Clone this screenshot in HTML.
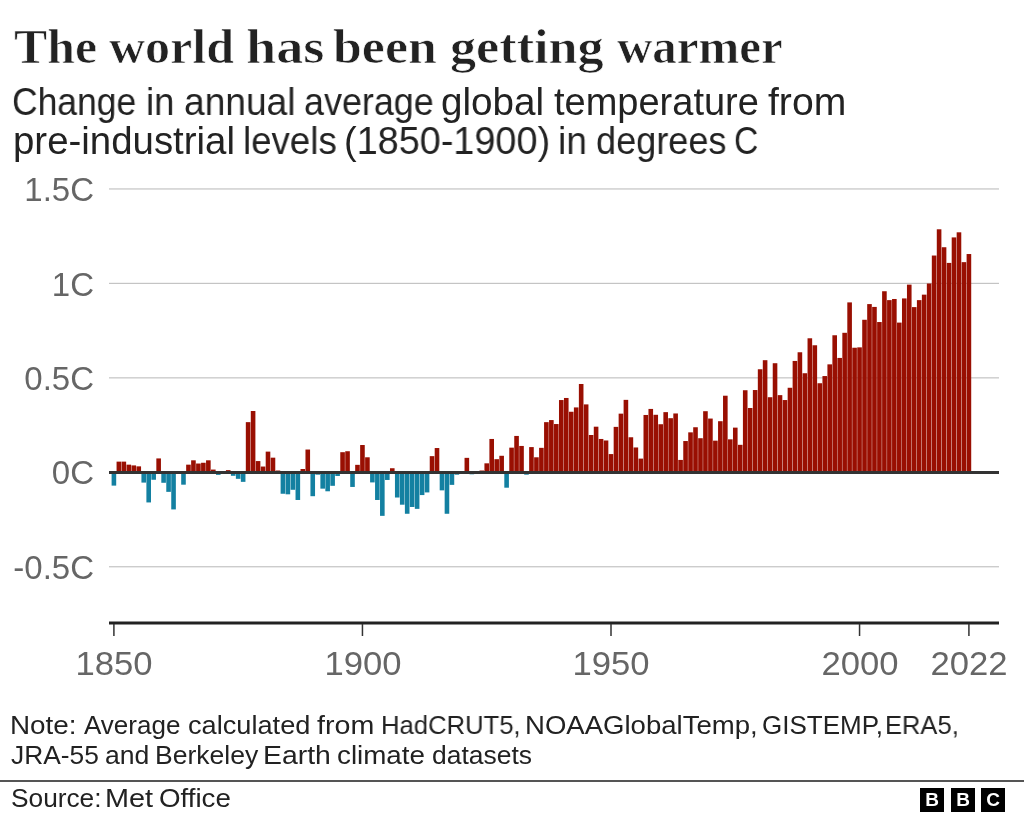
<!DOCTYPE html>
<html><head><meta charset="utf-8">
<style>
html,body{margin:0;padding:0;background:#fff;}
body{width:1024px;height:816px;position:relative;overflow:hidden;}
.t{position:absolute;white-space:nowrap;transform-origin:0 0;will-change:transform;}
.title{font-family:"Liberation Serif",serif;font-weight:bold;color:#222;font-size:48px;line-height:48px;-webkit-text-stroke:0.7px #fff;}
.sub{font-family:"Liberation Sans",sans-serif;color:#222;font-size:38px;line-height:40px;}
.ylab{font-family:"Liberation Sans",sans-serif;color:#666;font-size:33px;line-height:33px;text-align:right;width:92px;left:2px;transform-origin:100% 0;}
.xlab{font-family:"Liberation Sans",sans-serif;color:#666;font-size:33px;line-height:33px;width:0;transform:scaleX(1.05);}
.xlab span{position:absolute;left:0;transform:translateX(-50%);}
.note{font-family:"Liberation Sans",sans-serif;color:#222;font-size:26px;line-height:29px;}
.bbc{position:absolute;top:788px;width:24px;height:24px;background:#000;color:#fff;font-family:"Liberation Sans",sans-serif;font-weight:bold;font-size:19px;line-height:24px;text-align:center;will-change:transform;}
</style></head><body>
<div class="t title" style="left:13.76px;top:23px;transform:scaleX(1.0372)">The</div><div class="t title" style="left:109.40px;top:23px;transform:scaleX(1.0417)">world</div><div class="t title" style="left:246.17px;top:23px;transform:scaleX(1.1309)">has</div><div class="t title" style="left:333.20px;top:23px;transform:scaleX(1.0812)">been</div><div class="t title" style="left:449.71px;top:23px;transform:scaleX(1.0871)">getting</div><div class="t title" style="left:616.80px;top:23px;transform:scaleX(1.0198)">warmer</div>
<div class="t sub" style="left:12.23px;top:81.5px;transform:scaleX(0.9331)">Change</div><div class="t sub" style="left:146.08px;top:81.5px;transform:scaleX(0.9577)">in</div><div class="t sub" style="left:183.62px;top:81.5px;transform:scaleX(0.9766)">annual</div><div class="t sub" style="left:303.66px;top:81.5px;transform:scaleX(0.9444)">average</div><div class="t sub" style="left:441.38px;top:81.5px;transform:scaleX(1.0163)">global</div><div class="t sub" style="left:553.50px;top:81.5px;transform:scaleX(0.999)">temperature</div><div class="t sub" style="left:767.50px;top:81.5px;transform:scaleX(1.0297)">from</div>
<div class="t sub" style="left:12.58px;top:121px;transform:scaleX(1.0106)">pre-industrial</div><div class="t sub" style="left:242.77px;top:121px;transform:scaleX(0.9649)">levels</div><div class="t sub" style="left:343.71px;top:121px;transform:scaleX(0.9956)">(1850-1900)</div><div class="t sub" style="left:557.65px;top:121px;transform:scaleX(0.9769)">in</div><div class="t sub" style="left:595.85px;top:121px;transform:scaleX(0.9504)">degrees</div><div class="t sub" style="left:733.62px;top:121px;transform:scaleX(0.8875)">C</div>


<div class="t ylab" style="top:173.05px">1.5C</div>
<div class="t ylab" style="top:267.50px">1C</div>
<div class="t ylab" style="top:361.95px">0.5C</div>
<div class="t ylab" style="top:456.40px">0C</div>
<div class="t ylab" style="top:550.85px">-0.5C</div>

<svg style="position:absolute;left:0;top:0" width="1024" height="816" viewBox="0 0 1024 816">
<rect x="109" y="188.35" width="890" height="1.2" fill="#c4c4c4"/>
<rect x="109" y="282.80" width="890" height="1.2" fill="#c4c4c4"/>
<rect x="109" y="377.25" width="890" height="1.2" fill="#c4c4c4"/>
<rect x="109" y="566.15" width="890" height="1.2" fill="#c4c4c4"/>

<rect x="111.60" y="472.40" width="4.6" height="13.22" fill="#1380a1"/>
<rect x="116.57" y="461.63" width="4.6" height="10.77" fill="#990f02"/>
<rect x="121.54" y="461.63" width="4.6" height="10.77" fill="#990f02"/>
<rect x="126.51" y="464.66" width="4.6" height="7.74" fill="#990f02"/>
<rect x="131.48" y="465.41" width="4.6" height="6.99" fill="#990f02"/>
<rect x="136.45" y="466.36" width="4.6" height="6.04" fill="#990f02"/>
<rect x="141.43" y="472.40" width="4.6" height="10.20" fill="#1380a1"/>
<rect x="146.40" y="472.40" width="4.6" height="30.04" fill="#1380a1"/>
<rect x="151.37" y="472.40" width="4.6" height="7.37" fill="#1380a1"/>
<rect x="156.34" y="458.42" width="4.6" height="13.98" fill="#990f02"/>
<rect x="161.31" y="472.40" width="4.6" height="10.39" fill="#1380a1"/>
<rect x="166.28" y="472.40" width="4.6" height="19.46" fill="#1380a1"/>
<rect x="171.25" y="472.40" width="4.6" height="37.02" fill="#1380a1"/>
<rect x="181.19" y="472.40" width="4.6" height="12.28" fill="#1380a1"/>
<rect x="186.16" y="464.66" width="4.6" height="7.74" fill="#990f02"/>
<rect x="191.14" y="460.31" width="4.6" height="12.09" fill="#990f02"/>
<rect x="196.11" y="463.52" width="4.6" height="8.88" fill="#990f02"/>
<rect x="201.08" y="462.77" width="4.6" height="9.63" fill="#990f02"/>
<rect x="206.05" y="460.31" width="4.6" height="12.09" fill="#990f02"/>
<rect x="211.02" y="469.57" width="4.6" height="2.83" fill="#990f02"/>
<rect x="215.99" y="472.40" width="4.6" height="2.46" fill="#1380a1"/>
<rect x="225.93" y="470.13" width="4.6" height="2.27" fill="#990f02"/>
<rect x="230.90" y="472.40" width="4.6" height="3.40" fill="#1380a1"/>
<rect x="235.88" y="472.40" width="4.6" height="6.42" fill="#1380a1"/>
<rect x="240.85" y="472.40" width="4.6" height="9.45" fill="#1380a1"/>
<rect x="245.82" y="422.15" width="4.6" height="50.25" fill="#990f02"/>
<rect x="250.79" y="411.01" width="4.6" height="61.39" fill="#990f02"/>
<rect x="255.76" y="461.07" width="4.6" height="11.33" fill="#990f02"/>
<rect x="260.73" y="466.54" width="4.6" height="5.86" fill="#990f02"/>
<rect x="265.70" y="451.62" width="4.6" height="20.78" fill="#990f02"/>
<rect x="270.67" y="457.67" width="4.6" height="14.73" fill="#990f02"/>
<rect x="275.64" y="470.51" width="4.6" height="1.89" fill="#990f02"/>
<rect x="280.61" y="472.40" width="4.6" height="21.35" fill="#1380a1"/>
<rect x="285.58" y="472.40" width="4.6" height="21.91" fill="#1380a1"/>
<rect x="290.56" y="472.40" width="4.6" height="17.38" fill="#1380a1"/>
<rect x="295.53" y="472.40" width="4.6" height="27.58" fill="#1380a1"/>
<rect x="300.50" y="469.00" width="4.6" height="3.40" fill="#990f02"/>
<rect x="305.47" y="449.54" width="4.6" height="22.86" fill="#990f02"/>
<rect x="310.44" y="472.40" width="4.6" height="23.80" fill="#1380a1"/>
<rect x="315.41" y="472.40" width="4.6" height="2.27" fill="#1380a1"/>
<rect x="320.38" y="472.40" width="4.6" height="16.25" fill="#1380a1"/>
<rect x="325.35" y="472.40" width="4.6" height="18.89" fill="#1380a1"/>
<rect x="330.32" y="472.40" width="4.6" height="13.41" fill="#1380a1"/>
<rect x="335.30" y="472.40" width="4.6" height="3.59" fill="#1380a1"/>
<rect x="340.27" y="452.19" width="4.6" height="20.21" fill="#990f02"/>
<rect x="345.24" y="451.24" width="4.6" height="21.16" fill="#990f02"/>
<rect x="350.21" y="472.40" width="4.6" height="14.55" fill="#1380a1"/>
<rect x="355.18" y="464.84" width="4.6" height="7.56" fill="#990f02"/>
<rect x="360.15" y="445.01" width="4.6" height="27.39" fill="#990f02"/>
<rect x="365.12" y="457.29" width="4.6" height="15.11" fill="#990f02"/>
<rect x="370.09" y="472.40" width="4.6" height="10.01" fill="#1380a1"/>
<rect x="375.06" y="472.40" width="4.6" height="27.58" fill="#1380a1"/>
<rect x="380.03" y="472.40" width="4.6" height="43.45" fill="#1380a1"/>
<rect x="385.01" y="472.40" width="4.6" height="7.56" fill="#1380a1"/>
<rect x="389.98" y="468.24" width="4.6" height="4.16" fill="#990f02"/>
<rect x="394.95" y="472.40" width="4.6" height="25.12" fill="#1380a1"/>
<rect x="399.92" y="472.40" width="4.6" height="32.30" fill="#1380a1"/>
<rect x="404.89" y="472.40" width="4.6" height="41.37" fill="#1380a1"/>
<rect x="409.86" y="472.40" width="4.6" height="34.57" fill="#1380a1"/>
<rect x="414.83" y="472.40" width="4.6" height="36.46" fill="#1380a1"/>
<rect x="419.80" y="472.40" width="4.6" height="22.67" fill="#1380a1"/>
<rect x="424.77" y="472.40" width="4.6" height="20.02" fill="#1380a1"/>
<rect x="429.74" y="456.15" width="4.6" height="16.25" fill="#990f02"/>
<rect x="434.71" y="448.03" width="4.6" height="24.37" fill="#990f02"/>
<rect x="439.69" y="472.40" width="4.6" height="17.95" fill="#1380a1"/>
<rect x="444.66" y="472.40" width="4.6" height="41.37" fill="#1380a1"/>
<rect x="449.63" y="472.40" width="4.6" height="12.47" fill="#1380a1"/>
<rect x="454.60" y="472.40" width="4.6" height="2.27" fill="#1380a1"/>
<rect x="459.57" y="472.40" width="4.6" height="0.94" fill="#1380a1"/>
<rect x="464.54" y="457.85" width="4.6" height="14.55" fill="#990f02"/>
<rect x="469.51" y="472.40" width="4.6" height="1.89" fill="#1380a1"/>
<rect x="474.48" y="471.46" width="4.6" height="0.94" fill="#990f02"/>
<rect x="479.45" y="470.51" width="4.6" height="1.89" fill="#990f02"/>
<rect x="484.43" y="463.33" width="4.6" height="9.07" fill="#990f02"/>
<rect x="489.40" y="438.96" width="4.6" height="33.44" fill="#990f02"/>
<rect x="494.37" y="459.18" width="4.6" height="13.22" fill="#990f02"/>
<rect x="499.34" y="455.78" width="4.6" height="16.62" fill="#990f02"/>
<rect x="504.31" y="472.40" width="4.6" height="15.30" fill="#1380a1"/>
<rect x="509.28" y="447.65" width="4.6" height="24.75" fill="#990f02"/>
<rect x="514.25" y="435.94" width="4.6" height="36.46" fill="#990f02"/>
<rect x="519.22" y="445.95" width="4.6" height="26.45" fill="#990f02"/>
<rect x="524.19" y="472.40" width="4.6" height="2.27" fill="#1380a1"/>
<rect x="529.16" y="447.09" width="4.6" height="25.31" fill="#990f02"/>
<rect x="534.14" y="457.29" width="4.6" height="15.11" fill="#990f02"/>
<rect x="539.11" y="447.84" width="4.6" height="24.56" fill="#990f02"/>
<rect x="544.08" y="422.15" width="4.6" height="50.25" fill="#990f02"/>
<rect x="549.05" y="420.07" width="4.6" height="52.33" fill="#990f02"/>
<rect x="554.02" y="424.04" width="4.6" height="48.36" fill="#990f02"/>
<rect x="558.99" y="400.05" width="4.6" height="72.35" fill="#990f02"/>
<rect x="563.96" y="397.97" width="4.6" height="74.43" fill="#990f02"/>
<rect x="568.93" y="411.76" width="4.6" height="60.64" fill="#990f02"/>
<rect x="573.90" y="407.42" width="4.6" height="64.98" fill="#990f02"/>
<rect x="578.87" y="383.99" width="4.6" height="88.41" fill="#990f02"/>
<rect x="583.85" y="404.40" width="4.6" height="68.00" fill="#990f02"/>
<rect x="588.82" y="435.00" width="4.6" height="37.40" fill="#990f02"/>
<rect x="593.79" y="426.69" width="4.6" height="45.71" fill="#990f02"/>
<rect x="598.76" y="438.96" width="4.6" height="33.44" fill="#990f02"/>
<rect x="603.73" y="440.48" width="4.6" height="31.92" fill="#990f02"/>
<rect x="608.70" y="454.08" width="4.6" height="18.32" fill="#990f02"/>
<rect x="613.67" y="426.88" width="4.6" height="45.52" fill="#990f02"/>
<rect x="618.64" y="413.65" width="4.6" height="58.75" fill="#990f02"/>
<rect x="623.61" y="399.86" width="4.6" height="72.54" fill="#990f02"/>
<rect x="628.58" y="437.26" width="4.6" height="35.14" fill="#990f02"/>
<rect x="633.56" y="447.47" width="4.6" height="24.93" fill="#990f02"/>
<rect x="638.53" y="458.61" width="4.6" height="13.79" fill="#990f02"/>
<rect x="643.50" y="414.97" width="4.6" height="57.43" fill="#990f02"/>
<rect x="648.47" y="408.93" width="4.6" height="63.47" fill="#990f02"/>
<rect x="653.44" y="414.79" width="4.6" height="57.61" fill="#990f02"/>
<rect x="658.41" y="424.23" width="4.6" height="48.17" fill="#990f02"/>
<rect x="663.38" y="412.14" width="4.6" height="60.26" fill="#990f02"/>
<rect x="668.35" y="418.19" width="4.6" height="54.21" fill="#990f02"/>
<rect x="673.32" y="413.46" width="4.6" height="58.94" fill="#990f02"/>
<rect x="678.29" y="459.93" width="4.6" height="12.47" fill="#990f02"/>
<rect x="683.26" y="441.04" width="4.6" height="31.36" fill="#990f02"/>
<rect x="688.24" y="432.35" width="4.6" height="40.05" fill="#990f02"/>
<rect x="693.21" y="427.25" width="4.6" height="45.15" fill="#990f02"/>
<rect x="698.18" y="438.21" width="4.6" height="34.19" fill="#990f02"/>
<rect x="703.15" y="411.20" width="4.6" height="61.20" fill="#990f02"/>
<rect x="708.12" y="418.56" width="4.6" height="53.84" fill="#990f02"/>
<rect x="713.09" y="440.66" width="4.6" height="31.74" fill="#990f02"/>
<rect x="718.06" y="421.21" width="4.6" height="51.19" fill="#990f02"/>
<rect x="723.03" y="395.71" width="4.6" height="76.69" fill="#990f02"/>
<rect x="728.00" y="439.34" width="4.6" height="33.06" fill="#990f02"/>
<rect x="732.98" y="427.63" width="4.6" height="44.77" fill="#990f02"/>
<rect x="737.95" y="444.82" width="4.6" height="27.58" fill="#990f02"/>
<rect x="742.92" y="390.23" width="4.6" height="82.17" fill="#990f02"/>
<rect x="747.89" y="407.99" width="4.6" height="64.41" fill="#990f02"/>
<rect x="752.86" y="390.04" width="4.6" height="82.36" fill="#990f02"/>
<rect x="757.83" y="369.26" width="4.6" height="103.14" fill="#990f02"/>
<rect x="762.80" y="360.19" width="4.6" height="112.21" fill="#990f02"/>
<rect x="767.77" y="397.22" width="4.6" height="75.18" fill="#990f02"/>
<rect x="772.74" y="363.22" width="4.6" height="109.18" fill="#990f02"/>
<rect x="777.71" y="395.14" width="4.6" height="77.26" fill="#990f02"/>
<rect x="782.69" y="400.05" width="4.6" height="72.35" fill="#990f02"/>
<rect x="787.66" y="387.77" width="4.6" height="84.63" fill="#990f02"/>
<rect x="792.63" y="360.95" width="4.6" height="111.45" fill="#990f02"/>
<rect x="797.60" y="352.26" width="4.6" height="120.14" fill="#990f02"/>
<rect x="802.57" y="373.23" width="4.6" height="99.17" fill="#990f02"/>
<rect x="807.54" y="338.28" width="4.6" height="134.12" fill="#990f02"/>
<rect x="812.51" y="345.27" width="4.6" height="127.13" fill="#990f02"/>
<rect x="817.48" y="383.24" width="4.6" height="89.16" fill="#990f02"/>
<rect x="822.45" y="376.06" width="4.6" height="96.34" fill="#990f02"/>
<rect x="827.42" y="364.35" width="4.6" height="108.05" fill="#990f02"/>
<rect x="832.39" y="335.26" width="4.6" height="137.14" fill="#990f02"/>
<rect x="837.37" y="357.93" width="4.6" height="114.47" fill="#990f02"/>
<rect x="842.34" y="332.80" width="4.6" height="139.60" fill="#990f02"/>
<rect x="847.31" y="302.39" width="4.6" height="170.01" fill="#990f02"/>
<rect x="852.28" y="347.73" width="4.6" height="124.67" fill="#990f02"/>
<rect x="857.25" y="347.35" width="4.6" height="125.05" fill="#990f02"/>
<rect x="862.22" y="319.77" width="4.6" height="152.63" fill="#990f02"/>
<rect x="867.19" y="304.09" width="4.6" height="168.31" fill="#990f02"/>
<rect x="872.16" y="306.92" width="4.6" height="165.48" fill="#990f02"/>
<rect x="877.13" y="322.04" width="4.6" height="150.36" fill="#990f02"/>
<rect x="882.11" y="291.24" width="4.6" height="181.16" fill="#990f02"/>
<rect x="887.08" y="300.12" width="4.6" height="172.28" fill="#990f02"/>
<rect x="892.05" y="298.99" width="4.6" height="173.41" fill="#990f02"/>
<rect x="897.02" y="322.60" width="4.6" height="149.80" fill="#990f02"/>
<rect x="901.99" y="298.42" width="4.6" height="173.98" fill="#990f02"/>
<rect x="906.96" y="284.63" width="4.6" height="187.77" fill="#990f02"/>
<rect x="911.93" y="307.11" width="4.6" height="165.29" fill="#990f02"/>
<rect x="916.90" y="300.12" width="4.6" height="172.28" fill="#990f02"/>
<rect x="921.87" y="294.65" width="4.6" height="177.75" fill="#990f02"/>
<rect x="926.84" y="283.50" width="4.6" height="188.90" fill="#990f02"/>
<rect x="931.82" y="255.54" width="4.6" height="216.86" fill="#990f02"/>
<rect x="936.79" y="229.29" width="4.6" height="243.11" fill="#990f02"/>
<rect x="941.76" y="247.23" width="4.6" height="225.17" fill="#990f02"/>
<rect x="946.73" y="262.91" width="4.6" height="209.49" fill="#990f02"/>
<rect x="951.70" y="237.41" width="4.6" height="234.99" fill="#990f02"/>
<rect x="956.67" y="232.31" width="4.6" height="240.09" fill="#990f02"/>
<rect x="961.64" y="262.15" width="4.6" height="210.25" fill="#990f02"/>
<rect x="966.61" y="254.03" width="4.6" height="218.37" fill="#990f02"/>
<rect x="109" y="471" width="890" height="3" fill="#333"/>
<rect x="109" y="621.5" width="890" height="3" fill="#222"/>
<rect x="113.15" y="624" width="1.5" height="12" fill="#333"/>
<rect x="361.70" y="624" width="1.5" height="12" fill="#333"/>
<rect x="610.25" y="624" width="1.5" height="12" fill="#333"/>
<rect x="858.80" y="624" width="1.5" height="12" fill="#333"/>
<rect x="968.16" y="624" width="1.5" height="12" fill="#333"/>

<rect x="0" y="780" width="1024" height="2" fill="#555"/>
</svg>

<div class="t xlab" style="left:114.10px;top:647px"><span>1850</span></div>
<div class="t xlab" style="left:362.65px;top:647px"><span>1900</span></div>
<div class="t xlab" style="left:611.20px;top:647px"><span>1950</span></div>
<div class="t xlab" style="left:859.75px;top:647px"><span>2000</span></div>
<div class="t xlab" style="left:969.11px;top:647px"><span>2022</span></div>

<div class="t note" style="left:10.46px;top:711px;transform:scaleX(1.0707)">Note:</div><div class="t note" style="left:83.70px;top:711px;transform:scaleX(0.9958)">Average</div><div class="t note" style="left:187.55px;top:711px;transform:scaleX(1.0452)">calculated</div><div class="t note" style="left:317.00px;top:711px;transform:scaleX(1.102)">from</div><div class="t note" style="left:381.13px;top:711px;transform:scaleX(0.9862)">HadCRUT5,</div><div class="t note" style="left:525.38px;top:711px;transform:scaleX(1.0593)">NOAAGlobalTemp,</div><div class="t note" style="left:761.90px;top:711px;transform:scaleX(0.9992)">GISTEMP,</div><div class="t note" style="left:885.44px;top:711px;transform:scaleX(0.9817)">ERA5,</div>
<div class="t note" style="left:11.10px;top:740.5px;transform:scaleX(1.0128)">JRA-55</div><div class="t note" style="left:105.08px;top:740.5px;transform:scaleX(1.022)">and</div><div class="t note" style="left:154.76px;top:740.5px;transform:scaleX(1.0202)">Berkeley</div><div class="t note" style="left:263.02px;top:740.5px;transform:scaleX(1.0915)">Earth</div><div class="t note" style="left:337.23px;top:740.5px;transform:scaleX(1.0679)">climate</div><div class="t note" style="left:431.98px;top:740.5px;transform:scaleX(1.0175)">datasets</div>
<div class="t note" style="left:10.69px;top:784px;transform:scaleX(1.0103)">Source:</div><div class="t note" style="left:104.68px;top:784px;transform:scaleX(1.1098)">Met</div><div class="t note" style="left:158.63px;top:784px;transform:scaleX(1.0652)">Office</div>


<div class="bbc" style="left:920px">B</div>
<div class="bbc" style="left:951px">B</div>
<div class="bbc" style="left:981px">C</div>
</body></html>
